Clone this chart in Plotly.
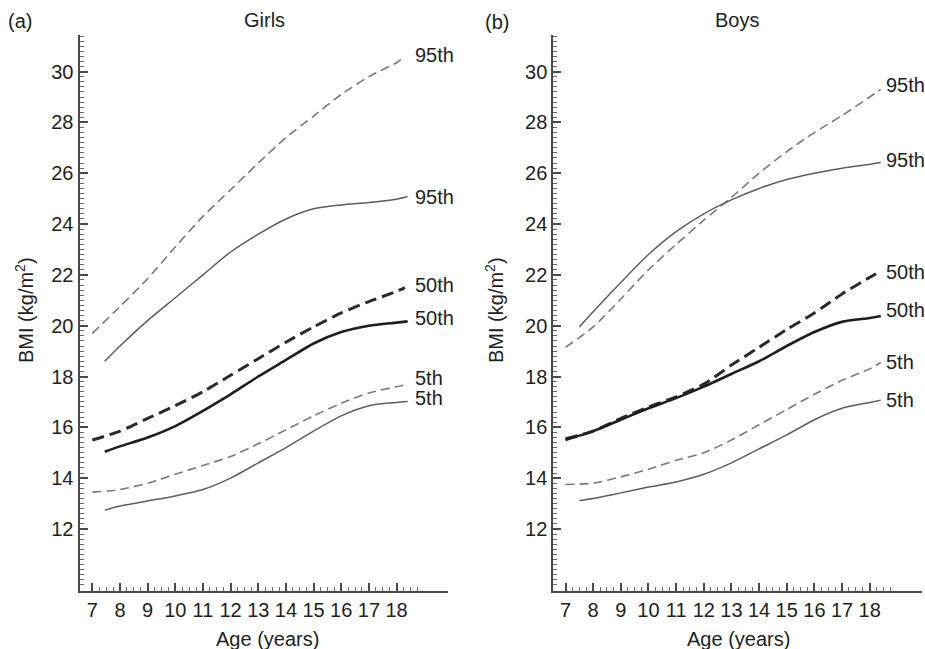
import plotly.graph_objects as go

# ---------------- data ----------------
girls_age_dashed = [7, 8, 9, 10, 11, 12, 13, 14, 15, 16, 17, 18, 18.3]
girls_age_solid = [7.45, 8, 9, 10, 11, 12, 13, 14, 15, 16, 17, 18, 18.4]
girls_95_dashed = [19.7, 20.75, 21.85, 23.1, 24.3, 25.35, 26.4, 27.4, 28.25, 29.1, 29.8, 30.35, 30.6]
girls_95_solid = [18.6, 19.2, 20.2, 21.1, 22.0, 22.9, 23.6, 24.2, 24.6, 24.75, 24.85, 24.98, 25.08]
girls_50_dashed = [15.5, 15.85, 16.35, 16.85, 17.4, 18.05, 18.7, 19.35, 19.95, 20.5, 20.95, 21.35, 21.5]
girls_50_solid = [15.04, 15.25, 15.6, 16.05, 16.65, 17.3, 18.0, 18.65, 19.3, 19.75, 20.0, 20.12, 20.17]
girls_5_dashed = [13.45, 13.55, 13.8, 14.15, 14.5, 14.85, 15.35, 15.9, 16.45, 16.95, 17.35, 17.6, 17.67]
girls_5_solid = [12.74, 12.9, 13.1, 13.3, 13.55, 14.0, 14.6, 15.2, 15.85, 16.45, 16.85, 16.98, 17.02]

boys_age_dashed = [7, 8, 9, 10, 11, 12, 13, 14, 15, 16, 17, 18, 18.4]
boys_age_solid = [7.5, 8, 9, 10, 11, 12, 13, 14, 15, 16, 17, 18, 18.4]
boys_age_solid50 = [7, 8, 9, 10, 11, 12, 13, 14, 15, 16, 17, 18, 18.4]
boys_95_dashed = [19.15, 19.95, 21.05, 22.2, 23.2, 24.15, 25.05, 26.0, 26.85, 27.6, 28.27, 29.0, 29.3]
boys_95_solid = [19.95, 20.55, 21.7, 22.8, 23.7, 24.4, 24.95, 25.4, 25.75, 26.0, 26.2, 26.35, 26.42]
boys_50_dashed = [15.55, 15.85, 16.35, 16.8, 17.2, 17.7, 18.45, 19.15, 19.85, 20.5, 21.25, 21.9, 22.15]
boys_50_solid = [15.5, 15.85, 16.3, 16.75, 17.15, 17.6, 18.1, 18.6, 19.2, 19.75, 20.15, 20.3, 20.38]
boys_5_dashed = [13.75, 13.8, 14.05, 14.35, 14.7, 15.0, 15.5, 16.1, 16.7, 17.3, 17.85, 18.3, 18.55]
boys_5_solid = [13.12, 13.2, 13.42, 13.65, 13.85, 14.15, 14.6, 15.15, 15.7, 16.3, 16.75, 16.98, 17.07]

label_text = ["95th", "95th", "50th", "50th", "5th", "5th"]
girls_label_y = [30.65, 25.08, 21.6, 20.3, 17.93, 17.14]
boys_label_y = [29.48, 26.52, 22.13, 20.62, 18.58, 17.07]
girls_label_x = 18.6
boys_label_x = 18.5

x_tick_vals = list(range(7, 19))
y_tick_vals = list(range(12, 31, 2))
x_minor_vals = [a + q for a in range(7, 19) for q in (0.25, 0.5, 0.75)]

# ---------------- styling ----------------
W, H = 925, 649
FONT = "Liberation Sans, Arial, Helvetica, sans-serif"
TXT = "#231f20"


def fx(px):
    return px / W


def fy(py):
    return 1 - py / H


thin_dash = dict(color="#7a7a7a", width=1.6, dash="9px,5px")
thin_solid = dict(color="#5e5e5e", width=1.5)
thick_dash = dict(color="#2b2b2b", width=3.0, dash="12px,6px")
thick_solid = dict(color="#1e1e1e", width=2.6)

fig = go.Figure()


def add(x, y, line, xa, ya):
    fig.add_trace(go.Scatter(x=x, y=y, mode="lines", line=dict(shape="spline", smoothing=0.7, **line),
                             xaxis=xa, yaxis=ya, showlegend=False, hoverinfo="x+y"))


add(girls_age_dashed, girls_95_dashed, thin_dash, "x", "y")
add(girls_age_solid, girls_95_solid, thin_solid, "x", "y")
add(girls_age_dashed, girls_50_dashed, thick_dash, "x", "y")
add(girls_age_solid, girls_50_solid, thick_solid, "x", "y")
add(girls_age_dashed, girls_5_dashed, thin_dash, "x", "y")
add(girls_age_solid, girls_5_solid, thin_solid, "x", "y")

add(boys_age_dashed, boys_95_dashed, thin_dash, "x2", "y2")
add(boys_age_solid, boys_95_solid, thin_solid, "x2", "y2")
add(boys_age_dashed, boys_50_dashed, thick_dash, "x2", "y2")
add(boys_age_solid50, boys_50_solid, thick_solid, "x2", "y2")
add(boys_age_dashed, boys_5_dashed, thin_dash, "x2", "y2")
add(boys_age_solid, boys_5_solid, thin_solid, "x2", "y2")

axis_common = dict(showline=True, linecolor="#4a4a4a", linewidth=2, ticks="inside", ticklen=8,
                   tickwidth=1.5, tickcolor="#4a4a4a", showgrid=False, zeroline=False,
                   tickfont=dict(family=FONT, size=20, color=TXT), fixedrange=True)

xcommon = dict(axis_common, tickmode="array", tickvals=x_tick_vals,
               minor=dict(tickmode="array", tickvals=x_minor_vals, ticks="inside", ticklen=4,
                          tickwidth=1.2, tickcolor="#6a6a6a"))
ycommon = dict(axis_common, tickmode="array", tickvals=y_tick_vals,
               minor=dict(tick0=0, dtick=0.2, ticks="inside", ticklen=4, tickwidth=1.1,
                          tickcolor="#6a6a6a"))

fig.update_layout(
    width=W, height=H, margin=dict(l=0, r=0, t=0, b=0),
    paper_bgcolor="white", plot_bgcolor="white",
    font=dict(family=FONT, size=20, color=TXT),
    xaxis=dict(xcommon, domain=[fx(79.5), fx(448)], range=[6.537, 19.86], anchor="y"),
    yaxis=dict(ycommon, domain=[fy(590.7), fy(35)], range=[9.57, 31.44], anchor="x"),
    xaxis2=dict(xcommon, domain=[fx(553.3), fx(921.7)], range=[6.559, 19.88], anchor="y2"),
    yaxis2=dict(ycommon, domain=[fy(590.7), fy(35)], range=[9.57, 31.44], anchor="x2"),
)

ann = []
for t, yv in zip(label_text, girls_label_y):
    ann.append(dict(x=girls_label_x, y=yv, xref="x", yref="y", text=t, showarrow=False,
                    xanchor="left", yanchor="middle", font=dict(size=20)))
for t, yv in zip(label_text, boys_label_y):
    ann.append(dict(x=boys_label_x, y=yv, xref="x2", yref="y2", text=t, showarrow=False,
                    xanchor="left", yanchor="middle", font=dict(size=20)))


def paper_text(text, px, py, angle=0):
    ann.append(dict(x=fx(px), y=fy(py), xref="paper", yref="paper", text=text, showarrow=False,
                    xanchor="center", yanchor="middle", textangle=angle, font=dict(size=20)))


paper_text("(a)", 20, 21)
paper_text("(b)", 497, 22)
paper_text("Girls", 264, 20)
paper_text("Boys", 737, 20)
paper_text("Age (years)", 267, 639)
paper_text("Age (years)", 738, 639)
paper_text("BMI (kg/m<sup>2</sup>)", 25, 310, -90)
paper_text("BMI (kg/m<sup>2</sup>)", 495, 310, -90)

fig.update_layout(annotations=ann)

fig.write_html("out.html", config={"displayModeBar": False},
               post_script="document.body.style.margin='0px';document.body.style.overflow='hidden';")
